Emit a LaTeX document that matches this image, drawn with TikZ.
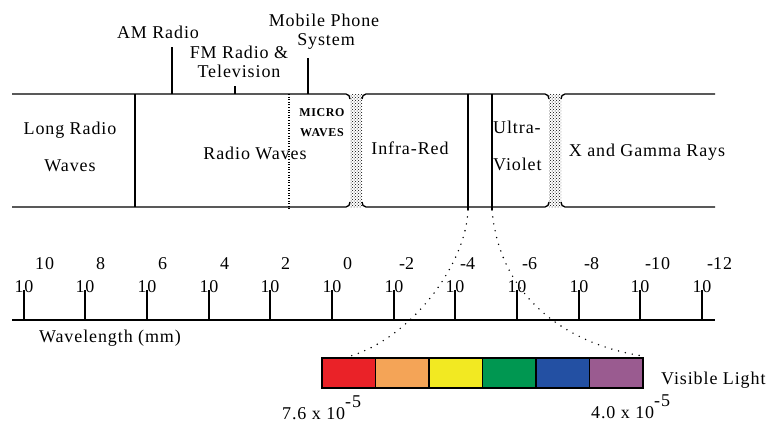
\documentclass[tikz,border=0pt]{standalone}
\usepackage{fontspec}
\setmainfont{Liberation Serif}[LetterSpace=5]
\usetikzlibrary{patterns}
\definecolor{vred}{HTML}{EA2228}
\definecolor{vorange}{HTML}{F4A457}
\definecolor{vyellow}{HTML}{F2E922}
\definecolor{vgreen}{HTML}{009751}
\definecolor{vblue}{HTML}{2350A3}
\definecolor{vpurple}{HTML}{9A5B90}
\tikzset{
  band/.style={line width=1.3pt},
  lbl/.style={font=\fontsize{18}{19}\selectfont, align=center, inner sep=0pt},
  microlbl/.style={font=\fontsize{12}{20}\selectfont\bfseries, align=center, inner sep=0pt},
  strip/.style={pattern=crosshatch dots, pattern color=black},
  zoomline/.style={line width=1.6pt, dash pattern=on 0pt off 7pt, line cap=round},
  swatch/.style={draw=black, line width=1.2pt}
}
\begin{document}
\begin{tikzpicture}[x=1pt,y=-1pt]
  \useasboundingbox (0,0) rectangle (770,423);
  % Band edges
  \coordinate (topline) at (0,94);
  \coordinate (botline) at (0,207);
  \draw[band] (12,94) -- (346,94) to[out=0,in=90] (350,99);
  \draw[band] (12,207) -- (346,207) to[out=0,in=-90] (350,202);
  \draw[band] (362,99) to[out=90,in=180] (366,94) -- (545,94) to[out=0,in=90] (549,99);
  \draw[band] (362,202) to[out=-90,in=180] (366,207) -- (545,207) to[out=0,in=-90] (549,202);
  \draw[band] (561,99) to[out=90,in=180] (565,94) -- (715,94);
  \draw[band] (561,202) to[out=-90,in=180] (565,207) -- (715,207);
  \fill[strip] (350,94) rectangle (362,207);
  \fill[strip] (549,94) rectangle (561,207);
  % Dividers
  \draw[band] (135,94) -- (135,207);
  \draw[line width=1.3pt, dash pattern=on 1pt off 1.6pt] (289,94) -- (289,210);
  \draw[band] (468,94) -- (468,210) coordinate (irend);
  \draw[band] (492,94) -- (492,210) coordinate (uvend);
  % Band names
  \node[lbl] (longradio) at (70,147) {Long Radio\\[18pt]Waves};
  \node[lbl] (radio) at (255,153) {Radio Waves};
  \node[microlbl] (micro) at (322,123) {MICRO\\WAVES};
  \node[lbl] (infrared) at (410,148) {Infra-Red};
  \node[lbl, align=left, anchor=west] (ultra) at (493,146) {Ultra-\\[18pt]Violet};
  \node[lbl] (xgamma) at (647,152) {X and Gamma Rays};
  % Labels above
  \node[lbl] (am) at (158,32) {AM Radio};
  \coordinate (amfoot) at (172,47);
  \draw[band] (amfoot) -- (amfoot |- topline);
  \node[lbl] (fm) at (239,62) {FM Radio \&\\Television};
  \coordinate (fmfoot) at (235,86);
  \draw[band] (fmfoot) -- (fmfoot |- topline);
  \node[lbl] (mobile) at (324,32) {Mobile Phone\\\hspace*{4pt}System};
  \coordinate (mobfoot) at (308,58);
  \draw[band] (mobfoot) -- (mobfoot |- topline);
  % Wavelength scale
  \draw[band] (12,320) coordinate (axisL) -- (715,320) coordinate (axisR);
  \foreach \i in {0,...,11} {
    \pgfmathtruncatemacro\tx{24+61.7*\i}
    \pgfmathtruncatemacro\ex{10-2*\i}
    \pgfmathtruncatemacro\ab{abs(\ex)}
    \draw[band] (\tx,320) -- (\tx,290);
    \node[lbl] (ten\i) at (\tx,287) {10};
    \node[lbl, anchor=base west] (ex\i) at (\tx+11,269) {\ifnum\ex<0\llap{-}\fi\ab};
  }
  \node[lbl] (wavelength) at (110,338) {Wavelength (mm)};
  % Visible light
  \foreach \c [count=\k from 0] in {vred,vorange,vyellow,vgreen,vblue,vpurple}
    \filldraw[swatch, fill=\c] (322+53.5*\k,358) rectangle ++(53.5,30);
  \coordinate (visL) at (347,357);
  \coordinate (visR) at (643,356);
  \draw[zoomline] (irend) .. controls (466,265) and (410,340) .. (visL);
  \draw[zoomline] (uvend) .. controls (500,300) and (570,345) .. (visR);
  \node[lbl, anchor=west] (visible) at (661,380) {Visible Light};
  \node[lbl, anchor=base west] (redlen) at (282,419) {7.6 x 10\raisebox{12pt}{-5}};
  \node[lbl, anchor=base west] (violetlen) at (591,418) {4.0 x 10\raisebox{12pt}{-5}};
\end{tikzpicture}
\end{document}
